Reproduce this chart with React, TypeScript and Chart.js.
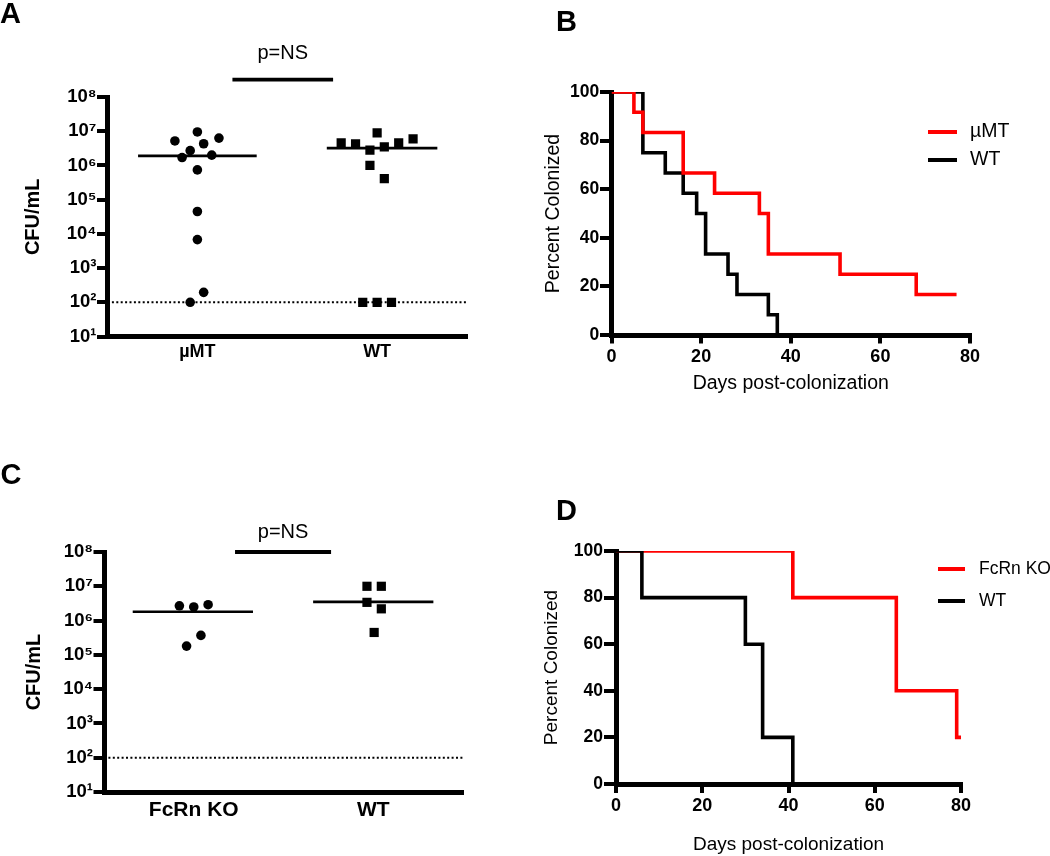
import React, { useEffect, useRef } from 'react';
import { Chart, registerables } from 'chart.js';

Chart.register(...registerables);

const FONT = "'Liberation Sans', Arial, Helvetica, sans-serif";
const RED = '#ff0000';
const BLACK = '#000000';

// ---------------- Panel A data ----------------
const aCategories = ['µMT', 'WT'];
const aMuMTx = [1.0, 0.75, 1.24, 1.07, 0.92, 0.83, 1.16, 1.0, 1.0, 1.0, 1.07, 0.92];
const aMuMTy = [9.5e6, 5.2e6, 6.3e6, 4.3e6, 2.7e6, 1.7e6, 2.0e6, 7.4e5, 4.5e4, 6.8e3, 195, 100];
const aWTx = [3.0, 2.6, 2.76, 2.92, 3.08, 3.24, 3.4, 2.92, 3.08, 2.84, 3.0, 3.16];
const aWTy = [8.9e6, 4.6e6, 4.3e6, 2.8e6, 3.5e6, 4.6e6, 6.0e6, 1.0e6, 4.1e5, 100, 100, 100];
const aMedians = [1.9e6, 3.2e6];
const aMedianSpan = [[0.34, 1.66], [2.44, 3.67]];
const aSigSpan = [1.39, 2.51];
const aSigLevel = 3.2e8;

// ---------------- Panel C data ----------------
const cCategories = ['FcRn KO', 'WT'];
const cKOx = [0.84, 1.0, 1.16, 0.92, 1.08];
const cKOy = [2.7e6, 2.5e6, 2.9e6, 1.8e5, 3.7e5];
const cWTx = [2.93, 3.09, 2.93, 3.09, 3.01];
const cWTy = [1.0e7, 1.0e7, 3.4e6, 2.2e6, 4.5e5];
const cMedians = [1.8e6, 3.5e6];
const cMedianSpan = [[0.32, 1.66], [2.33, 3.67]];
const cSigSpan = [1.46, 2.53];
const cSigLevel = 1e8;

const detectionLimit = 100;
const pLabel = 'p=NS';
const logTickValues = [1e1, 1e2, 1e3, 1e4, 1e5, 1e6, 1e7, 1e8];
const SUP = ['⁰', '¹', '²', '³', '⁴', '⁵', '⁶', '⁷', '⁸', '⁹'];

// ---------------- Panel B data ----------------
const bLabels = ['µMT', 'WT'];
const bDaysMuMT = [0, 5, 7, 16, 23, 33, 35, 51, 68, 77];
const bPctMuMT = [100, 91.67, 83.33, 66.67, 58.33, 50, 33.33, 25, 16.67, 16.67];
const bDaysWT = [0, 7, 12, 16, 19, 21, 26, 28, 35, 37];
const bPctWT = [100, 75, 66.67, 58.33, 50, 33.33, 25, 16.67, 8.33, 0];

// ---------------- Panel D data ----------------
const dLabels = ['FcRn KO', 'WT'];
const dDaysKO = [0, 41, 65, 79, 80];
const dPctKO = [100, 80, 40, 20, 20];
const dDaysWT = [0, 6, 30, 34, 41];
const dPctWT = [100, 80, 60, 20, 0];

// ---------------- Layout geometry ----------------
type Geo = { left: number; top: number; w: number; h: number; l: number; t: number; r: number; b: number; xH: number };
const GEO: Record<string, Geo> = {
  A: { left: 0, top: 0, w: 520, h: 430, l: 107.5, t: 97, r: 467, b: 336.5, xH: 60 },
  B: { left: 520, top: 0, w: 530, h: 430, l: 91.5, t: 92, r: 450, b: 335, xH: 70 },
  C: { left: 0, top: 430, w: 520, h: 426, l: 104, t: 122, r: 463, b: 362, xH: 60 },
  D: { left: 520, top: 430, w: 530, h: 426, l: 96, t: 121, r: 441, b: 354, xH: 72 },
};

function padFor(g: Geo) {
  return { left: 0, top: g.t, right: g.w - g.r, bottom: g.h - g.b - g.xH };
}

const pts = (xs: number[], ys: number[]) => xs.map((x, i) => ({ x, y: ys[i] }));

function scatterConfig(opts: any): any {
  const { g, cats, xs1, ys1, xs2, ys2, medians, spans, sigSpan, sigLevel, catSize, catPad, pOffset, yTitlePad } = opts;
  const datasets: any[] = [
    { label: cats[0], data: pts(xs1, ys1), showLine: false, pointStyle: 'circle', pointRadius: 4.8, pointBackgroundColor: BLACK, pointBorderColor: BLACK, pointBorderWidth: 0, order: 0 },
    { label: cats[1], data: pts(xs2, ys2), showLine: false, pointStyle: 'rect', pointRadius: 6.5, pointBackgroundColor: BLACK, pointBorderColor: BLACK, pointBorderWidth: 0, order: 0 },
    { label: 'median1', data: [{ x: spans[0][0], y: medians[0] }, { x: spans[0][1], y: medians[0] }], borderColor: BLACK, borderWidth: 2.6, pointRadius: 0, order: 2 },
    { label: 'median2', data: [{ x: spans[1][0], y: medians[1] }, { x: spans[1][1], y: medians[1] }], borderColor: BLACK, borderWidth: 2.6, pointRadius: 0, order: 2 },
    { label: 'limit', data: [{ x: 0, y: detectionLimit }, { x: 4, y: detectionLimit }], borderColor: BLACK, borderWidth: 2, borderDash: [2, 2.4], pointRadius: 0, order: 3 },
    { label: 'sig', data: [{ x: sigSpan[0], y: sigLevel }, { x: sigSpan[1], y: sigLevel }], borderColor: BLACK, borderWidth: 3.8, pointRadius: 0, clip: false, order: 4 },
  ];
  const pPlugin = {
    id: 'pText',
    afterDraw(chart: any) {
      const ctx = chart.ctx;
      const xs = chart.scales.x;
      const ys = chart.scales.y;
      const cx = xs.getPixelForValue((sigSpan[0] + sigSpan[1]) / 2);
      const cy = ys.getPixelForValue(sigLevel) - pOffset;
      ctx.save();
      ctx.fillStyle = BLACK;
      ctx.font = `20px ${FONT}`;
      ctx.textAlign = 'center';
      ctx.textBaseline = 'alphabetic';
      ctx.fillText(pLabel, cx, cy);
      ctx.restore();
    },
  };
  return {
    type: 'line',
    data: { datasets },
    plugins: [pPlugin],
    options: {
      responsive: false,
      animation: false,
      devicePixelRatio: 1,
      events: [],
      layout: { padding: padFor(g) },
      plugins: { legend: { display: false }, tooltip: { enabled: false } },
      scales: {
        x: {
          type: 'linear', min: 0, max: 4,
          afterFit: (s: any) => { s.height = g.xH; },
          afterBuildTicks: (s: any) => { s.ticks = [{ value: 1 }, { value: 3 }]; },
          grid: { display: false, drawTicks: false },
          border: { display: true, color: BLACK, width: 5 },
          ticks: {
            autoSkip: false, maxRotation: 0, padding: catPad, color: BLACK,
            font: { family: FONT, size: catSize, weight: 'bold' },
            callback: (v: number) => cats[Math.round((v - 1) / 2)],
          },
        },
        y: {
          type: 'logarithmic', min: 10, max: 1e8,
          afterFit: (s: any) => { s.width = g.l; },
          afterBuildTicks: (s: any) => { s.ticks = logTickValues.map((v) => ({ value: v })); },
          grid: { drawOnChartArea: false, color: BLACK, lineWidth: 4, tickLength: 10.5 },
          border: { display: true, color: BLACK, width: 5 },
          ticks: {
            autoSkip: false, padding: 0.5, color: BLACK,
            font: { family: FONT, size: 18.5, weight: 'bold' },
            callback: (v: number) => '10' + SUP[Math.round(Math.log10(v))],
          },
          title: {
            display: true, text: 'CFU/mL', color: BLACK,
            font: { family: FONT, size: 20, weight: 'bold' },
            padding: { top: yTitlePad, bottom: 0 },
          },
        },
      },
    },
  };
}

function kmConfig(opts: any): any {
  const { g, labels, days1, pct1, days2, pct2, order1, order2, legend, yTickPad, yTl, xTl, xTitleSize, yTitleSize, xTitlePad, yTitlePad } = opts;
  const datasets: any[] = [
    { label: labels[0], data: pts(days1, pct1), stepped: true, borderColor: RED, borderWidth: 3.6, pointRadius: 0, fill: false, order: order1, borderJoinStyle: 'miter', borderCapStyle: 'butt' },
    { label: labels[1], data: pts(days2, pct2), stepped: true, borderColor: BLACK, borderWidth: 3.6, pointRadius: 0, fill: false, order: order2, borderJoinStyle: 'miter', borderCapStyle: 'butt' },
  ];
  const legendPlugin = {
    id: 'kmLegend',
    afterDraw(chart: any) {
      const ctx = chart.ctx;
      ctx.save();
      chart.data.datasets.forEach((ds: any, i: number) => {
        const y = legend.y0 + i * legend.dy;
        ctx.strokeStyle = ds.borderColor;
        ctx.lineWidth = 4;
        ctx.lineCap = 'butt';
        ctx.beginPath();
        ctx.moveTo(legend.x0, y);
        ctx.lineTo(legend.x0 + legend.len, y);
        ctx.stroke();
        ctx.fillStyle = BLACK;
        ctx.font = `${legend.size}px ${FONT}`;
        ctx.textAlign = 'left';
        ctx.textBaseline = 'middle';
        ctx.fillText(ds.label, legend.tx, y);
      });
      ctx.restore();
    },
  };
  return {
    type: 'line',
    data: { datasets },
    plugins: [legendPlugin],
    options: {
      responsive: false,
      animation: false,
      devicePixelRatio: 1,
      events: [],
      layout: { padding: padFor(g) },
      plugins: { legend: { display: false }, tooltip: { enabled: false } },
      scales: {
        x: {
          type: 'linear', min: 0, max: 80,
          afterFit: (s: any) => { s.height = g.xH; },
          grid: { drawOnChartArea: false, color: BLACK, lineWidth: 4, tickLength: xTl },
          border: { display: true, color: BLACK, width: 5 },
          ticks: { stepSize: 20, autoSkip: false, maxRotation: 0, padding: 2.3, color: BLACK, font: { family: FONT, size: 18, weight: 'bold' } },
          title: { display: true, text: 'Days post-colonization', color: BLACK, font: { family: FONT, size: xTitleSize }, padding: { top: 0, bottom: xTitlePad } },
        },
        y: {
          type: 'linear', min: 0, max: 100,
          afterFit: (s: any) => { s.width = g.l; },
          grid: { drawOnChartArea: false, color: BLACK, lineWidth: 4, tickLength: yTl },
          border: { display: true, color: BLACK, width: 5 },
          ticks: { stepSize: 20, autoSkip: false, padding: yTickPad, color: BLACK, font: { family: FONT, size: 17.5, weight: 'bold' } },
          title: { display: true, text: 'Percent Colonized', color: BLACK, font: { family: FONT, size: yTitleSize }, padding: { top: yTitlePad, bottom: 0 } },
        },
      },
    },
  };
}

const letterStyle = (left: number, top: number): React.CSSProperties => ({
  position: 'absolute', left, top, fontFamily: FONT, fontWeight: 'bold', fontSize: 29, lineHeight: '29px', color: BLACK,
});

export default function App() {
  const refA = useRef<HTMLCanvasElement>(null);
  const refB = useRef<HTMLCanvasElement>(null);
  const refC = useRef<HTMLCanvasElement>(null);
  const refD = useRef<HTMLCanvasElement>(null);

  useEffect(() => {
    const charts: Chart[] = [];
    charts.push(new Chart(refA.current!, scatterConfig({
      g: GEO.A, cats: aCategories, xs1: aMuMTx, ys1: aMuMTy, xs2: aWTx, ys2: aWTy,
      medians: aMedians, spans: aMedianSpan, sigSpan: aSigSpan, sigLevel: aSigLevel,
      catSize: 18, catPad: 5, pOffset: 20.5, yTitlePad: 21.5,
    })));
    charts.push(new Chart(refC.current!, scatterConfig({
      g: GEO.C, cats: cCategories, xs1: cKOx, ys1: cKOy, xs2: cWTx, ys2: cWTy,
      medians: cMedians, spans: cMedianSpan, sigSpan: cSigSpan, sigLevel: cSigLevel,
      catSize: 21, catPad: 5.5, pOffset: 14, yTitlePad: 22,
    })));
    charts.push(new Chart(refB.current!, kmConfig({
      g: GEO.B, labels: bLabels, days1: bDaysMuMT, pct1: bPctMuMT, days2: bDaysWT, pct2: bPctWT,
      order1: 0, order2: 1,
      legend: { x0: 408, len: 29, y0: 132, dy: 28, tx: 450, size: 19.5 },
      yTickPad: 0.7, yTl: 11.5, xTl: 8.5, xTitleSize: 19.5, yTitleSize: 19.5, xTitlePad: 9.3, yTitlePad: 22.3,
    })));
    charts.push(new Chart(refD.current!, kmConfig({
      g: GEO.D, labels: dLabels, days1: dDaysKO, pct1: dPctKO, days2: dDaysWT, pct2: dPctWT,
      order1: 1, order2: 0,
      legend: { x0: 418, len: 27, y0: 139, dy: 32, tx: 459, size: 17.5 },
      yTickPad: 1, yTl: 12, xTl: 9, xTitleSize: 19, yTitleSize: 19, xTitlePad: 0, yTitlePad: 20.6,
    })));
    return () => charts.forEach((c) => c.destroy());
  }, []);

  const cv = (g: Geo): React.CSSProperties => ({ position: 'absolute', left: g.left, top: g.top, width: g.w, height: g.h });

  return (
    <div style={{ position: 'absolute', left: 0, top: 0, width: 1050, height: 856, background: '#ffffff', overflow: 'hidden' }}>
      <canvas ref={refA} width={GEO.A.w} height={GEO.A.h} style={cv(GEO.A)} />
      <canvas ref={refB} width={GEO.B.w} height={GEO.B.h} style={cv(GEO.B)} />
      <canvas ref={refC} width={GEO.C.w} height={GEO.C.h} style={cv(GEO.C)} />
      <canvas ref={refD} width={GEO.D.w} height={GEO.D.h} style={cv(GEO.D)} />
      <div style={letterStyle(0, -1)}>A</div>
      <div style={letterStyle(556, 7)}>B</div>
      <div style={letterStyle(0.5, 460)}>C</div>
      <div style={letterStyle(556, 496)}>D</div>
    </div>
  );
}
